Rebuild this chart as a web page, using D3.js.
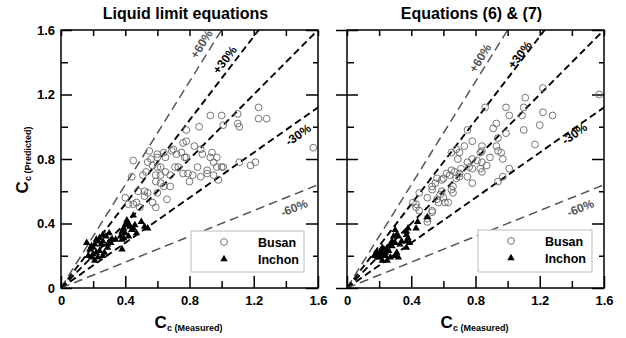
<!DOCTYPE html>
<html>
<head>
<meta charset="utf-8">
<script src="https://cdn.jsdelivr.net/npm/d3@7"></script>
<style>
  body { margin: 0; background: #fff; }
  text { font-family: Arial, "Liberation Sans", sans-serif; }
</style>
</head>
<body>
<div id="chart"></div>
<script>
// ---- data: [Cc measured, Cc predicted] ----
const busanLeft = [
  [0.45,0.79],[0.55,0.85],[0.60,0.83],[0.64,0.84],[0.69,0.85],[0.75,0.84],[0.78,0.91],[0.76,0.90],
  [0.78,0.98],[0.86,1.00],[0.93,1.07],[1.00,1.07],[1.01,1.01],[1.10,1.08],[1.10,1.02],[1.11,1.00],
  [1.23,1.12],[1.23,1.05],[1.28,1.05],[1.57,0.87],[0.83,0.88],[0.87,0.86],[0.88,0.83],[0.94,0.84],
  [0.93,0.81],[0.97,0.81],[1.11,0.78],[1.18,0.76],[1.21,0.78],[0.95,0.78],[0.97,0.75],[1.00,0.75],
  [1.01,0.75],[0.85,0.75],[0.91,0.73],[0.91,0.71],[0.95,0.70],[0.98,0.67],[0.79,0.71],[0.82,0.70],
  [0.87,0.69],[0.80,0.66],[0.78,0.81],[0.44,0.69],[0.51,0.70],[0.53,0.72],[0.54,0.78],[0.56,0.80],
  [0.60,0.81],[0.65,0.81],[0.70,0.86],[0.72,0.83],[0.77,0.81],[0.57,0.76],[0.60,0.75],[0.62,0.75],
  [0.59,0.70],[0.62,0.70],[0.65,0.72],[0.68,0.70],[0.71,0.75],[0.73,0.75],[0.76,0.71],[0.59,0.66],
  [0.62,0.65],[0.64,0.63],[0.68,0.63],[0.48,0.60],[0.52,0.60],[0.54,0.59],[0.40,0.56],[0.42,0.52],
  [0.45,0.52],[0.47,0.53],[0.49,0.50],[0.52,0.57],[0.57,0.53],[0.59,0.50],[0.60,0.59],[0.66,0.55]
];
const inchonLeft = [
  [0.41,0.42],[0.42,0.40],[0.40,0.39],[0.39,0.37],[0.43,0.38],[0.45,0.37],[0.46,0.39],[0.38,0.35],
  [0.40,0.34],[0.42,0.32],[0.44,0.36],[0.50,0.41],[0.52,0.38],[0.54,0.37],[0.47,0.34],[0.39,0.31],
  [0.38,0.30],[0.37,0.32],[0.24,0.31],[0.26,0.33],[0.23,0.29],[0.21,0.27],[0.20,0.25],[0.18,0.24],
  [0.17,0.20],[0.19,0.19],[0.21,0.17],[0.23,0.19],[0.26,0.20],[0.27,0.22],[0.29,0.25],[0.29,0.27],
  [0.31,0.28],[0.32,0.30],[0.26,0.29],[0.22,0.22],[0.38,0.24],[0.16,0.28],[0.20,0.21],[0.24,0.23],
  [0.25,0.27],[0.28,0.32],[0.30,0.34],[0.34,0.30],[0.22,0.30],[0.19,0.26],[0.45,0.45]
];
const busanRight = [
  [1.22,1.24],[1.11,1.18],[0.99,1.12],[0.86,1.12],[1.10,1.12],[1.01,1.07],[1.09,1.07],[1.22,1.09],
  [1.28,1.07],[1.20,1.01],[0.93,1.02],[0.91,0.99],[0.99,0.96],[1.10,0.98],[0.75,0.98],[0.94,0.93],
  [0.78,0.91],[1.17,0.89],[0.93,0.88],[0.94,0.85],[0.96,0.84],[0.84,0.88],[0.84,0.85],[0.83,0.84],
  [0.73,0.88],[0.65,0.84],[0.68,0.86],[0.70,0.84],[0.97,0.80],[0.89,0.81],[0.69,0.80],[0.78,0.80],
  [0.81,0.79],[0.84,0.78],[0.87,0.76],[0.75,0.78],[0.76,0.75],[0.78,0.74],[0.83,0.74],[0.84,0.72],
  [1.01,0.74],[0.65,0.73],[0.67,0.72],[0.70,0.71],[0.71,0.74],[0.62,0.71],[0.64,0.70],[0.94,0.66],
  [0.97,0.69],[0.75,0.69],[0.78,0.65],[0.68,0.68],[0.70,0.69],[0.56,0.68],[0.55,0.65],[0.59,0.67],
  [0.60,0.68],[0.66,0.63],[0.65,0.61],[0.66,0.59],[0.59,0.60],[0.58,0.58],[0.60,0.56],[0.53,0.63],
  [0.53,0.61],[0.50,0.56],[0.61,0.53],[0.63,0.53],[0.57,0.53],[0.56,0.55],[0.45,0.59],[0.41,0.53],
  [0.43,0.50],[0.53,0.48],[0.53,0.47],[0.45,0.48],[1.57,1.20],[0.50,0.43],[0.50,0.41],[0.43,0.52]
];
const inchonRight = [
  [0.44,0.41],[0.50,0.44],[0.43,0.37],[0.38,0.37],[0.37,0.35],[0.30,0.36],[0.31,0.33],[0.32,0.32],
  [0.34,0.29],[0.29,0.32],[0.30,0.28],[0.28,0.29],[0.27,0.27],[0.25,0.25],[0.24,0.22],[0.37,0.33],
  [0.38,0.31],[0.37,0.29],[0.39,0.28],[0.37,0.25],[0.31,0.22],[0.30,0.20],[0.32,0.19],[0.22,0.25],
  [0.19,0.22],[0.17,0.20],[0.20,0.19],[0.19,0.19],[0.22,0.17],[0.27,0.19],[0.24,0.20],[0.20,0.21],
  [0.23,0.24],[0.25,0.17],[0.21,0.23],[0.26,0.23],[0.28,0.26],[0.18,0.21],[0.22,0.20],[0.33,0.27]
];

const panelTitles = ["Liquid limit equations", "Equations (6) & (7)"];
const seriesNames = ["Busan", "Inchon"];
const majorTicks = [0, 0.4, 0.8, 1.2, 1.6];
const minorTicks = [0.2, 0.6, 1.0, 1.4];
const guideSlopes = [1.6, 1.3, 1.0, 0.7, 0.4];
const guideLabels = ["+60%", "+30%", "", "-30%", "-60%"];

// ---- layout ----
const W = 626, H = 338;
const plotTop = 30, plotH = 258, plotW = 257;
const panels = [
  {left: 61,  busan: busanLeft,  inchon: inchonLeft,  yLabels: true,  outerTicks: false,
   labelAt: [[0.890,1.503],[1.034,1.404],null,[1.476,0.950],[1.451,0.497]],
   nudge: [-3, -3, 0, 0, 0],
   legend: [191, 231, 113, 41]},
  {left: 347, busan: busanRight, inchon: inchonRight, yLabels: false, outerTicks: true,
   labelAt: [[0.845,1.416],[1.075,1.447],null,[1.416,0.957],[1.453,0.497]],
   nudge: [-3, 0, 0, 0, 0],
   legend: [478, 230, 114, 42]}
];

const svg = d3.select("#chart").append("svg")
    .attr("width", W).attr("height", H)
    .style("background", "#fff");

const fmt = d => d === 0 ? "0" : d3.format(".1f")(d);

panels.forEach(function (p, i) {
    const x = d3.scaleLinear().domain([0, 1.6]).range([0, plotW]);
    const y = d3.scaleLinear().domain([0, 1.6]).range([plotH, 0]);

    const g = svg.append("g")
        .attr("transform", "translate(" + p.left + "," + plotTop + ")");

    g.append("clipPath").attr("id", "clip" + i)
        .append("rect").attr("width", plotW).attr("height", plotH);

    // guide lines through the origin
    const lines = g.append("g").attr("clip-path", "url(#clip" + i + ")");
    guideSlopes.forEach(function (s, k) {
        const gray = Math.abs(s - 1) > 0.5;
        lines.append("line")
            .attr("x1", x(0)).attr("y1", y(0))
            .attr("x2", x(2)).attr("y2", y(2 * s))
            .attr("stroke", gray ? "#555" : "#000")
            .attr("stroke-width", gray ? 1.5 : 1.9)
            .attr("stroke-dasharray", gray ? "9,5" : "7,4");
    });

    // axes
    function ax(axis, tr, vals, size, labels, pad) {
        const a = g.append("g").attr("transform", tr)
            .call(axis.tickValues(vals).tickSize(size).tickPadding(pad || 3)
                .tickFormat(labels ? fmt : ""));
        a.select(".domain").remove();
        a.selectAll("line").attr("stroke", "#000").attr("stroke-width", 1.5);
        a.selectAll("text").attr("font-size", 13).attr("font-weight", "bold").attr("fill", "#000");
        return a;
    }
    ax(d3.axisLeft(y), "", majorTicks, -11, p.yLabels, 6);
    ax(d3.axisLeft(y), "", minorTicks, -7, false);
    if (p.outerTicks) ax(d3.axisLeft(y), "", majorTicks, 11, false);
    ax(d3.axisRight(y), "translate(" + plotW + ",0)", majorTicks, -12, false);
    ax(d3.axisRight(y), "translate(" + plotW + ",0)", minorTicks, -5, false);
    ax(d3.axisBottom(x), "translate(0," + plotH + ")", majorTicks, -12, true, 8);
    ax(d3.axisBottom(x), "translate(0," + plotH + ")", minorTicks, -7, false);
    ax(d3.axisTop(x), "", majorTicks.concat(minorTicks), -6, false);

    g.append("rect").attr("width", plotW).attr("height", plotH)
        .attr("fill", "none").attr("stroke", "#000").attr("stroke-width", 1.5);

    // points
    g.append("g").selectAll("circle").data(p.busan).enter().append("circle")
        .attr("cx", d => x(d[0])).attr("cy", d => y(d[1])).attr("r", 3.4)
        .attr("fill", "none").attr("stroke", "#666").attr("stroke-width", 0.9);
    const tri = d3.symbol(d3.symbolTriangle).size(24);
    g.append("g").selectAll("path").data(p.inchon).enter().append("path")
        .attr("d", tri)
        .attr("transform", d => "translate(" + x(d[0]) + "," + y(d[1]) + ")")
        .attr("fill", "#000");

    // guide labels
    guideSlopes.forEach(function (s, k) {
        if (!guideLabels[k]) return;
        const pos = p.labelAt[k];
        const gray = Math.abs(s - 1) > 0.5;
        const ang = -Math.atan(s * (plotH / plotW)) * 180 / Math.PI;
        g.append("text")
            .attr("transform", "translate(" + x(pos[0]) + "," + y(pos[1]) + ") rotate(" + ang + ")")
            .attr("text-anchor", "middle").attr("y", p.nudge[k]).attr("dy", "0.35em")
            .attr("font-size", 12)
            .attr("font-weight", "bold")
            .attr("fill", gray ? "#555" : "#000")
            .text(guideLabels[k]);
    });

    // legend
    const lg = svg.append("g");
    const L = p.legend;
    lg.append("rect").attr("x", L[0]).attr("y", L[1]).attr("width", L[2]).attr("height", L[3])
        .attr("fill", "#fff").attr("stroke", "#bbb").attr("stroke-width", 1);
    lg.append("circle").attr("cx", L[0] + 33).attr("cy", L[1] + 11).attr("r", 3.4)
        .attr("fill", "none").attr("stroke", "#666").attr("stroke-width", 0.9);
    lg.append("path").attr("d", tri)
        .attr("transform", "translate(" + (L[0] + 33) + "," + (L[1] + 28) + ")");
    seriesNames.forEach(function (n, k) {
        lg.append("text").attr("x", L[0] + 67).attr("y", L[1] + 16 + k * 17)
            .attr("font-size", 12.5).attr("font-weight", "bold").text(n);
    });

    // titles
    svg.append("text").attr("x", p.left + plotW / 2 - 4).attr("y", 19)
        .attr("text-anchor", "middle").attr("font-size", 16).attr("font-weight", "bold")
        .text(panelTitles[i]);

    const xt = svg.append("text").attr("x", p.left + plotW / 2 - 1).attr("y", 328)
        .attr("text-anchor", "middle").attr("font-weight", "bold");
    xt.append("tspan").attr("font-size", 17).text("C");
    xt.append("tspan").attr("font-size", 9).attr("dy", 3).text("c (Measured)");
});

// y-axis title
const yt = svg.append("text")
    .attr("transform", "translate(28,160) rotate(-90)")
    .attr("text-anchor", "middle").attr("font-weight", "bold");
yt.append("tspan").attr("font-size", 17).text("C");
yt.append("tspan").attr("font-size", 9).attr("dy", 3).text("c (Predicted)");
</script>
</body>
</html>
